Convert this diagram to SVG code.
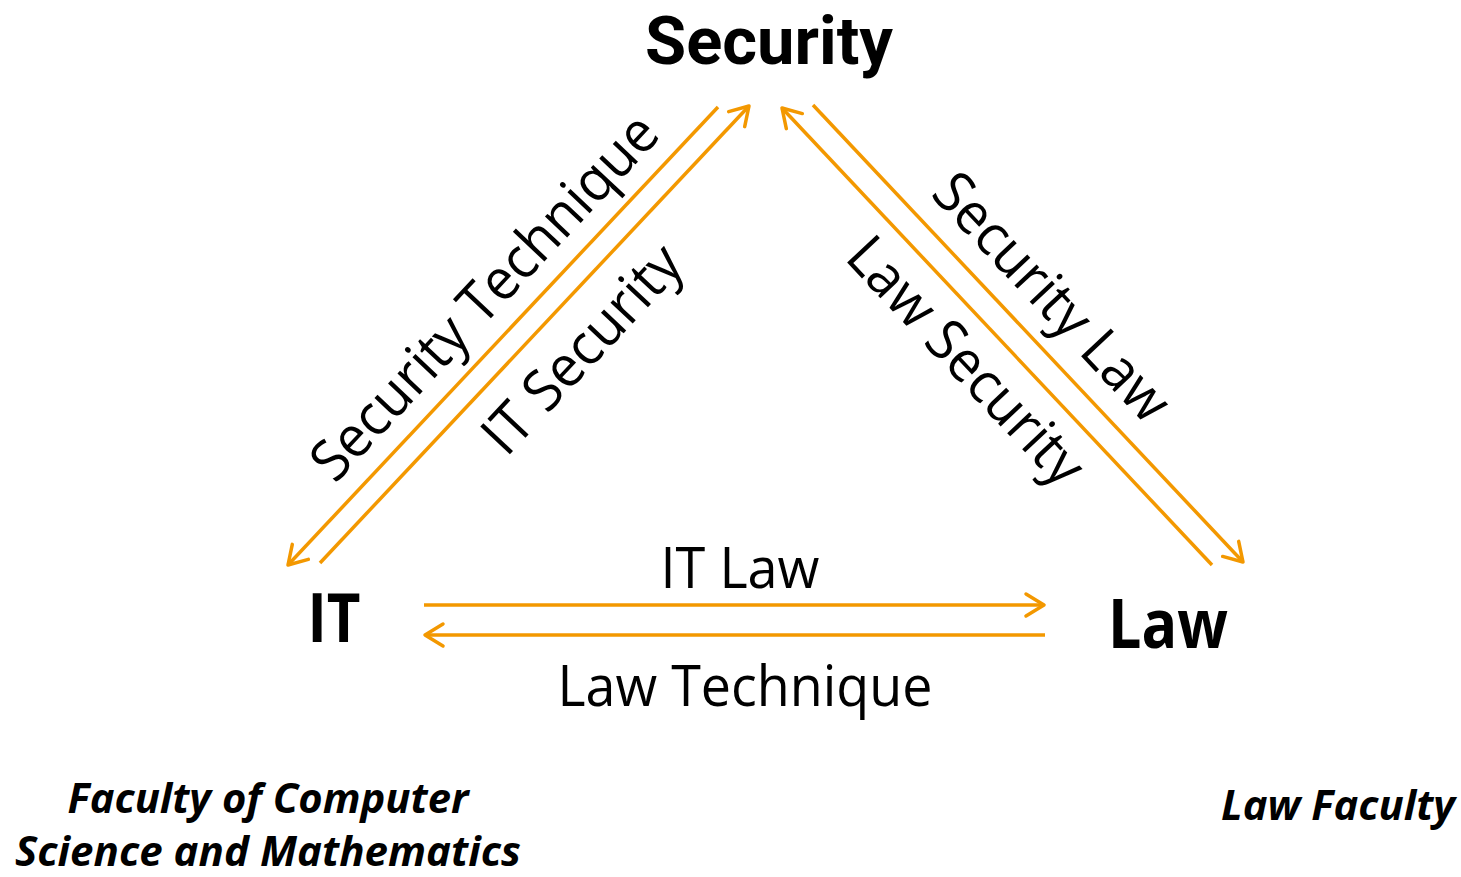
<svg xmlns="http://www.w3.org/2000/svg" width="1461" height="877" viewBox="0 0 1461 877">
<style>
.node{font-family:"Open Sans","Liberation Sans",sans-serif;font-weight:bold;font-size:68px;fill:#000;text-anchor:middle}
.top{font-family:Roboto,"Open Sans",sans-serif;font-size:67px}
.lbl{font-family:"Open Sans","Liberation Sans",sans-serif;font-size:57px;fill:#000;text-anchor:middle}
.fac{font-family:"Open Sans","Liberation Sans",sans-serif;font-weight:bold;font-style:italic;font-size:42px;fill:#000;text-anchor:middle}
.conn line{stroke:#F39800;stroke-width:3.5;marker-end:url(#arr)}
</style>
<defs>
<marker id="arr" viewBox="-3 -14 24 28" refX="18" refY="0" markerWidth="24" markerHeight="28" markerUnits="userSpaceOnUse" orient="auto">
<path d="M0,-11 L18,0 L0,11" fill="none" stroke="#F39800" stroke-width="3.5" stroke-linecap="round" stroke-linejoin="round"/>
</marker>
</defs>
<rect width="1461" height="877" fill="#fff"/>
<g id="security"><text class="node top" x="769" y="64" textLength="248" lengthAdjust="spacingAndGlyphs">Security</text></g>
<g id="it"><text class="node" x="334" y="642" textLength="53" lengthAdjust="spacingAndGlyphs">IT</text></g>
<g id="law"><text class="node" x="1168" y="648" textLength="120" lengthAdjust="spacingAndGlyphs">Law</text></g>
<g id="connectors" class="conn">
<line x1="718" y1="107" x2="288" y2="565"/>
<line x1="320" y1="563" x2="749" y2="106"/>
<line x1="1212" y1="565" x2="782" y2="108"/>
<line x1="813" y1="105" x2="1243" y2="562"/>
<line x1="424" y1="605" x2="1044" y2="605"/>
<line x1="1045" y1="635" x2="425" y2="635"/>
</g>
<g id="labels">
<text class="lbl" transform="translate(498.5,310.3) rotate(-46.8)" textLength="478" lengthAdjust="spacingAndGlyphs">Security Technique</text>
<text class="lbl" transform="translate(596.2,362.3) rotate(-46.8)" textLength="263" lengthAdjust="spacingAndGlyphs">IT Security</text>
<text class="lbl" transform="translate(1037.9,310.4) rotate(46.8)" textLength="317" lengthAdjust="spacingAndGlyphs">Security Law</text>
<text class="lbl" transform="translate(951.9,374.3) rotate(46.8)" textLength="317" lengthAdjust="spacingAndGlyphs">Law Security</text>
<text class="lbl" x="740" y="588" textLength="159" lengthAdjust="spacingAndGlyphs">IT Law</text>
<text class="lbl" x="745" y="706" textLength="375" lengthAdjust="spacingAndGlyphs">Law Technique</text>
</g>
<g id="faculties">
<text class="fac" x="268" y="813" textLength="401" lengthAdjust="spacingAndGlyphs">Faculty of Computer</text>
<text class="fac" x="268" y="866" textLength="506" lengthAdjust="spacingAndGlyphs">Science and Mathematics</text>
<text class="fac" x="1338" y="820" textLength="234" lengthAdjust="spacingAndGlyphs">Law Faculty</text>
</g>
</svg>
